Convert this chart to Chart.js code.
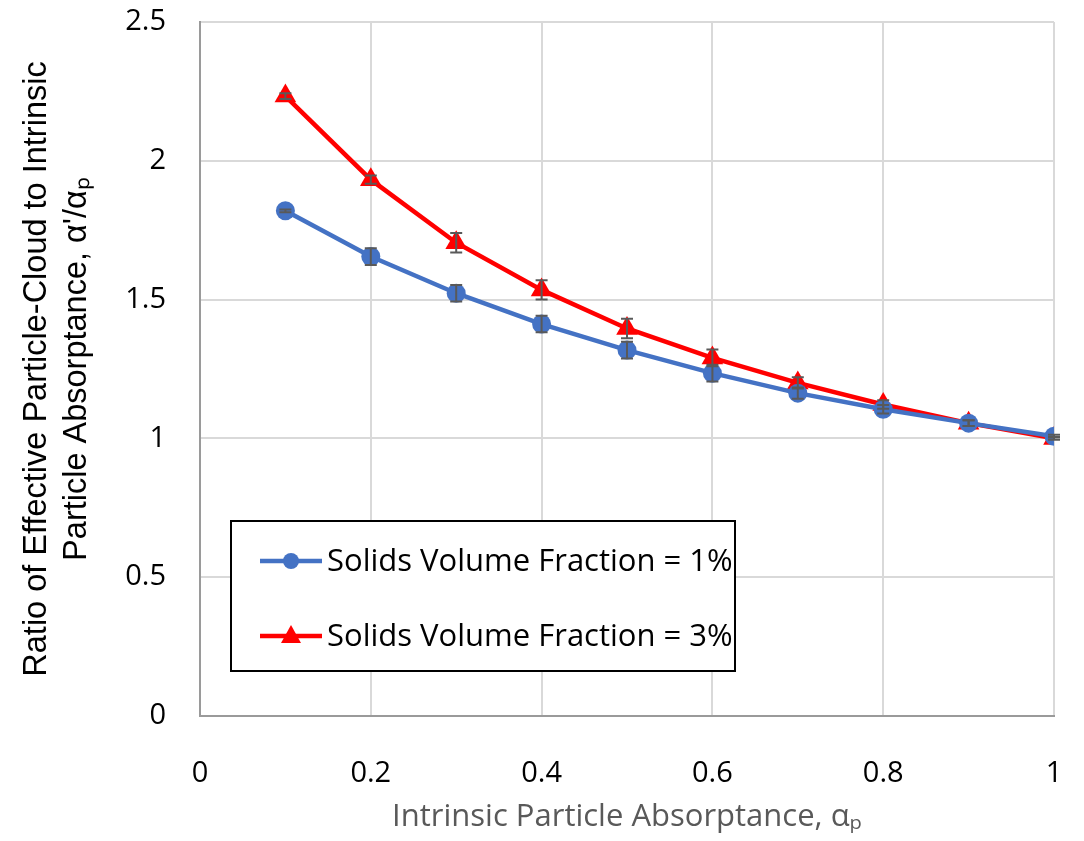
<!DOCTYPE html>
<html>
<head>
<meta charset="utf-8">
<script src="https://cdn.jsdelivr.net/npm/chart.js@4/dist/chart.umd.min.js"></script>
<style>
  html, body { margin: 0; padding: 0; background: #fff; }
  #wrap { width: 1084px; height: 841px; }
</style>
</head>
<body>
<div id="wrap"><canvas id="absorptanceChart" width="1084" height="841"></canvas></div>
<script>
// Intrinsic particle absorptance (x) and ratio alpha'/alpha_p (y)
const absorptance = [0.1, 0.2, 0.3, 0.4, 0.5, 0.6, 0.7, 0.8, 0.9, 1.0];
const ratio1pct = [1.82, 1.655, 1.523, 1.412, 1.318, 1.235, 1.163, 1.105, 1.055, 1.008];
const ratio3pct = [2.233, 1.932, 1.705, 1.535, 1.396, 1.29, 1.2, 1.122, 1.055, 1.0];
const err1pct = [0.005, 0.03, 0.03, 0.03, 0.03, 0.03, 0.02, 0.015, 0.01, 0.005];
const err3pct = [0.01, 0.015, 0.035, 0.035, 0.035, 0.03, 0.02, 0.015, 0.01, 0.005];
const seriesLabels = ['Solids Volume Fraction = 1%', 'Solids Volume Fraction = 3%'];
const xTicks = [0, 0.2, 0.4, 0.6, 0.8, 1];
const yTicks = [0, 0.5, 1, 1.5, 2, 2.5];

const toPoints = (ys) => absorptance.map((x, i) => ({ x: x, y: ys[i] }));
const mainFont = '"Open Sans", Lato, sans-serif';

// error bars, drawn through the chart's own scales
const errorBars = {
    id: 'errorBars',
    afterDatasetsDraw(chart) {
        const { ctx, scales: { x, y } } = chart;
        ctx.save();
        ctx.strokeStyle = '#595959';
        ctx.lineWidth = 2;
        chart.data.datasets.forEach((ds) => {
            ds.data.forEach((p, i) => {
                const e = ds.errors[i];
                const px = x.getPixelForValue(p.x);
                const top = y.getPixelForValue(p.y + e);
                const bot = y.getPixelForValue(p.y - e);
                ctx.beginPath();
                ctx.moveTo(px, top); ctx.lineTo(px, bot);
                ctx.moveTo(px - 6, top); ctx.lineTo(px + 6, top);
                ctx.moveTo(px - 6, bot); ctx.lineTo(px + 6, bot);
                ctx.stroke();
            });
        });
        ctx.restore();
    }
};

// boxed legend inside the plot, like the Excel original
const boxLegend = {
    id: 'boxLegend',
    afterDraw(chart) {
        const { ctx } = chart;
        const bx = 231, by = 521, bw = 504, bh = 150;
        ctx.save();
        ctx.fillStyle = '#fff';
        ctx.fillRect(bx, by, bw, bh);
        ctx.strokeStyle = '#000';
        ctx.lineWidth = 2;
        ctx.strokeRect(bx, by, bw, bh);
        chart.data.datasets.forEach((ds, i) => {
            const cy = by + 40 + i * 75;
            ctx.strokeStyle = ds.borderColor;
            ctx.lineWidth = 4.5;
            ctx.beginPath();
            ctx.moveTo(260, cy); ctx.lineTo(322, cy);
            ctx.stroke();
            ctx.fillStyle = ds.borderColor;
            ctx.beginPath();
            if (ds.pointStyle === 'triangle') {
                ctx.moveTo(291, cy - 11); ctx.lineTo(301, cy + 7); ctx.lineTo(281, cy + 7);
                ctx.closePath();
            } else {
                ctx.arc(291, cy, 8, 0, Math.PI * 2);
            }
            ctx.fill();
            ctx.fillStyle = '#000';
            ctx.font = '31px ' + mainFont;
            ctx.textBaseline = 'middle';
            ctx.textAlign = 'left';
            ctx.fillText(ds.label, 327, cy + 1);
        });
        ctx.restore();
    }
};

const noPad = (axis) => {
    axis.paddingTop = 0; axis.paddingBottom = 0;
    axis.paddingLeft = 0; axis.paddingRight = 0;
};

new Chart(document.getElementById('absorptanceChart'), {
    type: 'line',
    data: {
        datasets: [{
            label: seriesLabels[0],
            data: toPoints(ratio1pct),
            errors: err1pct,
            borderColor: '#4472C4',
            backgroundColor: '#4472C4',
            borderWidth: 4.5,
            pointStyle: 'circle',
            pointRadius: 9.5,
            pointBorderWidth: 0,
            tension: 0
        }, {
            label: seriesLabels[1],
            data: toPoints(ratio3pct),
            errors: err3pct,
            borderColor: '#FF0000',
            backgroundColor: '#FF0000',
            borderWidth: 4.5,
            pointStyle: 'triangle',
            pointRadius: 12.5,
            pointBorderWidth: 0,
            tension: 0
        }]
    },
    options: {
        responsive: false,
        animation: false,
        layout: { padding: { top: 22, right: 30, left: 0, bottom: 0 } },
        plugins: { legend: { display: false }, tooltip: { enabled: false } },
        scales: {
            x: {
                type: 'linear',
                min: 0, max: 1,
                afterBuildTicks: (axis) => { axis.ticks = xTicks.map(v => ({ value: v })); },
                afterFit: (axis) => { axis.height = 125; noPad(axis); },
                grid: { color: '#d9d9d9', lineWidth: 2, drawTicks: false },
                border: { color: '#9a9a9a', width: 2 },
                ticks: {
                    color: '#000',
                    padding: 40,
                    font: { family: mainFont, size: 29 },
                    callback: (v) => String(v)
                },
                title: {
                    display: true,
                    text: 'Intrinsic Particle Absorptance, \u03b1\u209a',
                    color: '#595959',
                    padding: { top: 0, bottom: 5 },
                    font: { family: mainFont, size: 31 }
                }
            },
            y: {
                min: 0, max: 2.5,
                afterBuildTicks: (axis) => { axis.ticks = yTicks.map(v => ({ value: v })); },
                afterFit: (axis) => { axis.width = 200; noPad(axis); },
                grid: { color: '#d9d9d9', lineWidth: 2, drawTicks: false },
                border: { color: '#9a9a9a', width: 2 },
                ticks: {
                    color: '#000',
                    padding: 34,
                    font: { family: mainFont, size: 29 },
                    callback: (v) => String(v)
                },
                title: {
                    display: true,
                    text: ['Ratio of Effective Particle-Cloud to Intrinsic', 'Particle Absorptance, \u03b1\'/\u03b1\u209a'],
                    color: '#000',
                    padding: { top: 17, bottom: 0 },
                    font: { family: '"Liberation Sans Narrow", "Arial Narrow", sans-serif', size: 32.5, lineHeight: 1.23 }
                }
            }
        }
    },
    plugins: [errorBars, boxLegend]
});
</script>
</body>
</html>
